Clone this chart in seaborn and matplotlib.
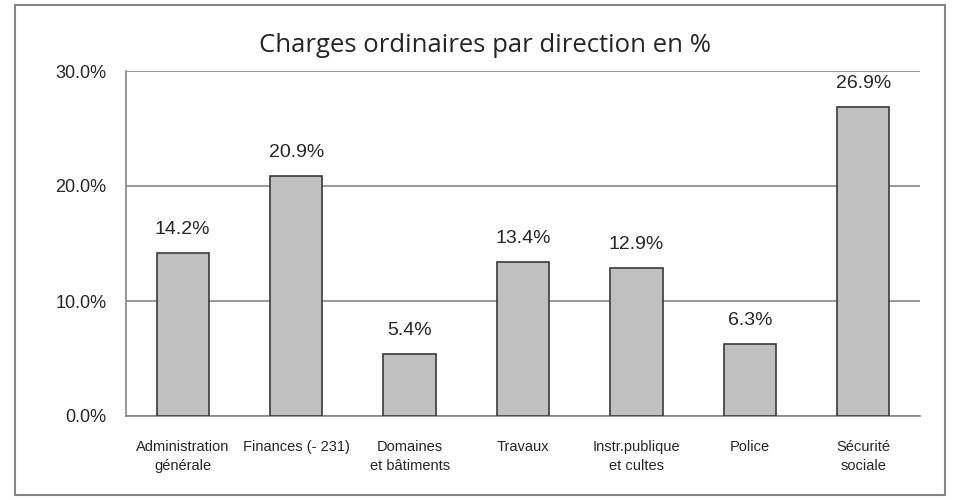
import matplotlib
matplotlib.use("Agg")
import matplotlib.pyplot as plt
import seaborn as sns
import pandas as pd
from matplotlib.patches import Rectangle
from matplotlib.ticker import FuncFormatter, FixedLocator

categories = ["Administration\ngénérale", "Finances (- 231)", "Domaines\net bâtiments",
              "Travaux", "Instr.publique\net cultes", "Police", "Sécurité\nsociale"]
values = [14.2, 20.9, 5.4, 13.4, 12.9, 6.3, 26.9]

df = pd.DataFrame({"Direction": categories, "Pct": values})

sns.set_style("white")
plt.rcParams['font.family'] = ['Liberation Sans', 'DejaVu Sans']

fig = plt.figure(figsize=(9.55, 5.0), dpi=100)
ax = fig.add_axes([126 / 955, 1 - 416 / 500, (920 - 126) / 955, (416 - 71) / 500])

# outer frame of the chart
fig.patches.append(Rectangle((15 / 955, 5 / 500), 930 / 955, 490 / 500, transform=fig.transFigure,
                             fill=False, edgecolor="#868686", linewidth=1.5))

sns.barplot(data=df, x="Direction", y="Pct", color="#c0c0c0", edgecolor="#3a3a3a",
            linewidth=1.2, width=0.46, saturation=1, ax=ax, zorder=3)

ax.set_ylim(0, 30)
ax.set_xlim(-0.5, len(categories) - 0.5)
ax.set_yticks([0, 10, 20, 30])
ax.yaxis.set_major_formatter(FuncFormatter(lambda v, p: f"{v:.1f}%"))
ax.yaxis.grid(True, color="#868686", linewidth=1.2, zorder=0)
ax.set_axisbelow(True)

ax.set_xlabel("")
ax.set_ylabel("")
for s in ["top", "right"]:
    ax.spines[s].set_visible(False)
for s in ["left", "bottom"]:
    ax.spines[s].set_color("#868686")
    ax.spines[s].set_linewidth(1.2)

# ticks: category boundaries on x, outside on y
ax.xaxis.set_major_locator(FixedLocator([i - 0.5 for i in range(len(categories) + 1)]))
ax.xaxis.set_minor_locator(FixedLocator(list(range(len(categories)))))
ax.set_xticklabels([""] * (len(categories) + 1))
ax.set_xticklabels(categories, minor=True, fontsize=10.5, linespacing=1.45)
ax.tick_params(axis="x", which="major", direction="out", length=5, color="#868686", width=1.2)
ax.tick_params(axis="x", which="minor", length=0, pad=17)
ax.tick_params(axis="y", direction="out", length=5, color="#868686", width=1.2, labelsize=13, pad=9)

for i, v in enumerate(values):
    ax.text(i, v + 1.3, f"{v:.1f}%", ha="center", va="bottom", fontsize=14)

fig.text(485 / 955, 1 - 45 / 500, "Charges ordinaires par direction en %", ha="center", va="center",
         fontsize=18.5, family=['Open Sans', 'DejaVu Sans'])

fig.savefig("out.png", dpi=100)
